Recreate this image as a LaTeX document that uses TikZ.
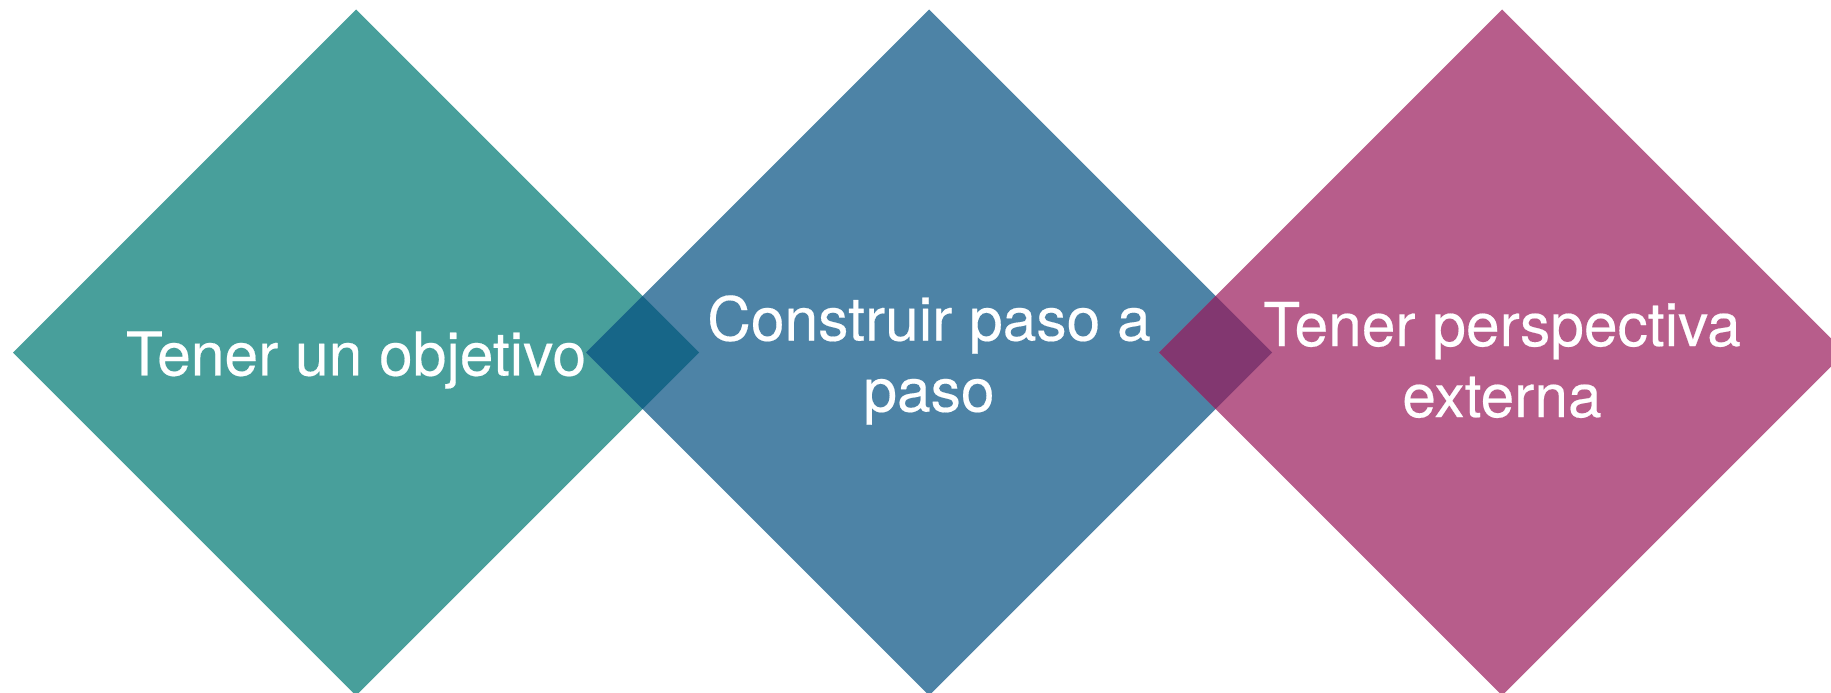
\documentclass[tikz,border=0pt]{standalone}
\usepackage{fontspec}
\setmainfont{TeX Gyre Heros}
\newfontfamily\lblfont[FakeBold=0.3]{TeX Gyre Heros}
\definecolor{cteal}{HTML}{489F9B}
\definecolor{cblue}{HTML}{4D83A6}
\definecolor{cpink}{HTML}{B75D8B}
\definecolor{ctb}{HTML}{176688}
\definecolor{cbp}{HTML}{823770}
\tikzset{
  lbl/.style={text=white, align=center, inner sep=0pt, font=\lblfont\fontsize{60.5}{71}\selectfont},
}
\begin{document}
\begin{tikzpicture}[x=1pt,y=-1pt]
\useasboundingbox (0,0) rectangle (1831,693);
\clip (0,0) rectangle (1831,693);
% centres
\coordinate (c1) at (356,352.5);
\coordinate (c2) at (929,352.5);
\coordinate (c3) at (1502,352.5);
\coordinate (o1) at (642.5,352.5);
\coordinate (o2) at (1215.5,352.5);
% big diamonds
\fill[cteal] ([xshift=-343pt]c1) -- ([yshift=343pt]c1) -- ([xshift=343pt]c1) -- ([yshift=-343pt]c1) -- cycle;
\fill[cblue] ([xshift=-343pt]c2) -- ([yshift=343pt]c2) -- ([xshift=343pt]c2) -- ([yshift=-343pt]c2) -- cycle;
\fill[cpink] ([xshift=-343pt]c3) -- ([yshift=343pt]c3) -- ([xshift=343pt]c3) -- ([yshift=-343pt]c3) -- cycle;
% overlaps
\fill[ctb] ([xshift=-56.5pt]o1) -- ([yshift=56.5pt]o1) -- ([xshift=56.5pt]o1) -- ([yshift=-56.5pt]o1) -- cycle;
\fill[cbp] ([xshift=-56.5pt]o2) -- ([yshift=56.5pt]o2) -- ([xshift=56.5pt]o2) -- ([yshift=-56.5pt]o2) -- cycle;
% labels
\node[lbl] (t1) at (356,360) {Tener un objetivo};
\node[lbl] (t2) at (929,360) {Construir paso a\\paso};
\node[lbl] (t3) at (1502,360) {Tener perspectiva\\externa};
\end{tikzpicture}
\end{document}
